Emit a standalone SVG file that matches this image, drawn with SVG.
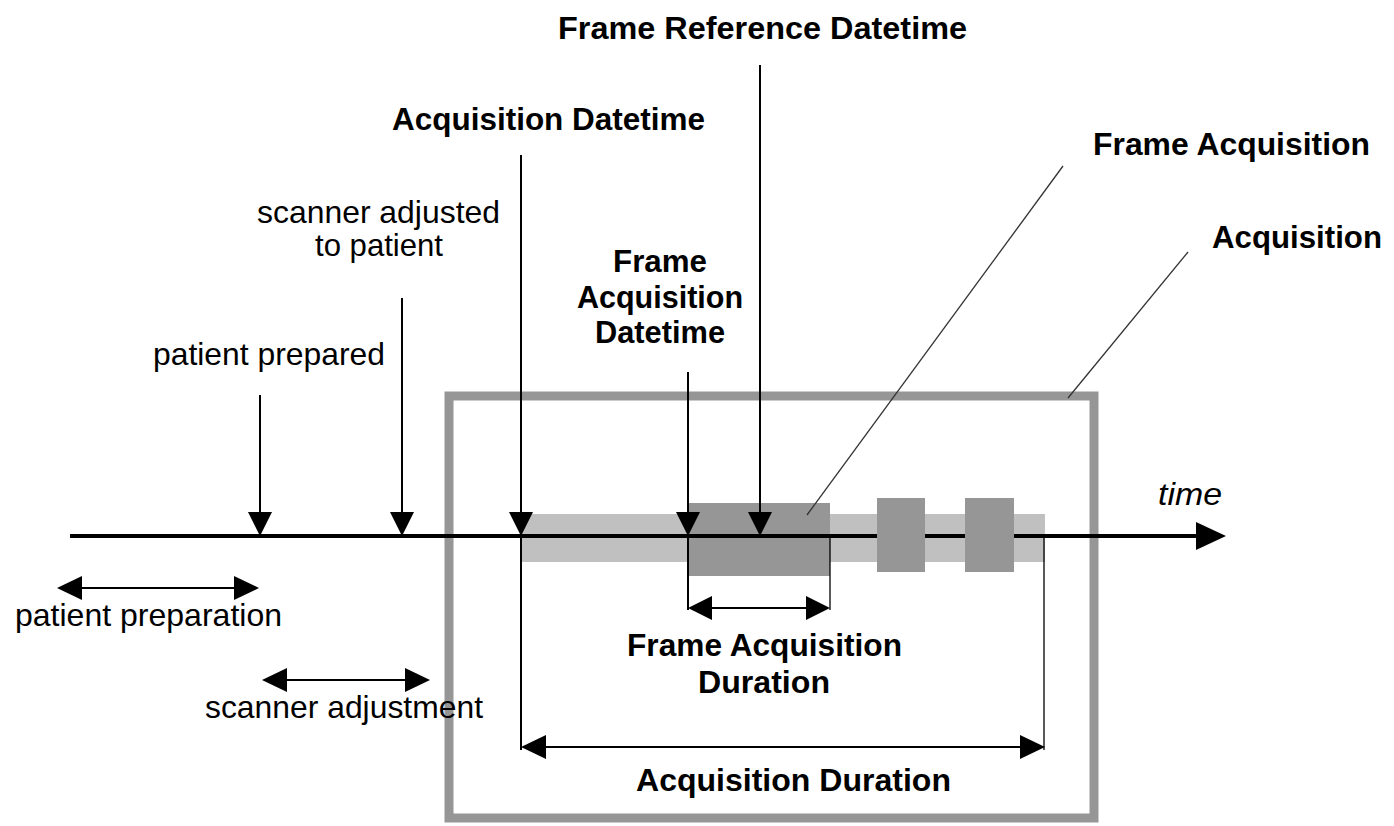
<svg xmlns="http://www.w3.org/2000/svg" width="1394" height="826" viewBox="0 0 1394 826">
<style>
.b{font-family:"Liberation Sans",Arial,sans-serif;font-weight:bold;font-size:32px;fill:#000}
.r{font-family:"Liberation Sans",Arial,sans-serif;font-size:32px;fill:#000}
.ln{stroke:#000;stroke-width:2;fill:none}
.tl{stroke:#000;stroke-width:4;fill:none}
.th{stroke:#000;stroke-width:1.3;fill:none}
.ld{stroke:#333;stroke-width:1.3;fill:none}
.hd{fill:#000}
</style>
<rect width="1394" height="826" fill="#fff"/>
<g id="acquisition-box">
<rect x="449" y="396" width="645" height="422" fill="none" stroke="#969696" stroke-width="9"/>
</g>
<g id="acquisition-band">
<rect x="521" y="514" width="524" height="48" fill="#c0c0c0"/>
</g>
<g id="frame-main">
<rect x="688" y="503" width="142" height="73" fill="#969696"/>
</g>
<g id="connectors">
<line class="tl" x1="70" y1="536" x2="1200" y2="536"/>
<polygon class="hd" points="1196,522 1226,536 1196,550"/>
<line class="ln" x1="260" y1="395" x2="260" y2="520"/>
<polygon class="hd" points="248,512 272,512 260,536"/>
<line class="ln" x1="402" y1="298" x2="402" y2="520"/>
<polygon class="hd" points="390,512 414,512 402,536"/>
<line class="ln" x1="521" y1="155" x2="521" y2="750"/>
<polygon class="hd" points="509,512 533,512 521,536"/>
<line class="ln" x1="688" y1="372" x2="688" y2="610"/>
<polygon class="hd" points="676,512 700,512 688,536"/>
<line class="ln" x1="760" y1="65" x2="760" y2="520"/>
<polygon class="hd" points="748,512 772,512 760,536"/>
<line class="th" x1="830" y1="536" x2="830" y2="610"/>
<line class="th" x1="1044" y1="536" x2="1044" y2="750"/>
<line class="ld" x1="807" y1="515" x2="1063" y2="166"/>
<line class="ld" x1="1068" y1="398" x2="1188" y2="252"/>
<line class="ln" x1="70" y1="588" x2="245" y2="588"/>
<polygon class="hd" points="57,588 82,576 82,600"/>
<polygon class="hd" points="259,588 234,576 234,600"/>
<line class="ln" x1="275" y1="680" x2="418" y2="680"/>
<polygon class="hd" points="262,680 287,668 287,692"/>
<polygon class="hd" points="430,680 405,668 405,692"/>
<line class="ln" x1="700" y1="608" x2="818" y2="608"/>
<polygon class="hd" points="688,608 712,596 712,620"/>
<polygon class="hd" points="830,608 806,596 806,620"/>
<line class="ln" x1="533" y1="747" x2="1033" y2="747"/>
<polygon class="hd" points="521,747 546,735 546,759"/>
<polygon class="hd" points="1045,747 1020,735 1020,759"/>
</g>
<g id="frames">
<rect x="877" y="498" width="48" height="74" fill="#969696"/>
<rect x="965" y="498" width="49" height="74" fill="#969696"/>
</g>
<g id="label-frame-reference-datetime"><text class="b" x="558" y="39" textLength="409" lengthAdjust="spacingAndGlyphs">Frame Reference Datetime</text></g>
<g id="label-acquisition-datetime"><text class="b" x="392" y="130" textLength="313" lengthAdjust="spacingAndGlyphs">Acquisition Datetime</text></g>
<g id="label-frame-acquisition"><text class="b" x="1093" y="155" textLength="277" lengthAdjust="spacingAndGlyphs">Frame Acquisition</text></g>
<g id="label-acquisition"><text class="b" x="1212" y="248" textLength="170" lengthAdjust="spacingAndGlyphs">Acquisition</text></g>
<g id="label-scanner-adjusted"><text class="r" x="257" y="223" textLength="243" lengthAdjust="spacingAndGlyphs">scanner adjusted</text><text class="r" x="315" y="256" textLength="128" lengthAdjust="spacingAndGlyphs">to patient</text></g>
<g id="label-patient-prepared"><text class="r" x="153" y="365" textLength="232" lengthAdjust="spacingAndGlyphs">patient prepared</text></g>
<g id="label-frame-acquisition-datetime"><text class="b" x="613" y="272" textLength="94" lengthAdjust="spacingAndGlyphs">Frame</text><text class="b" x="577" y="308" textLength="166" lengthAdjust="spacingAndGlyphs">Acquisition</text><text class="b" x="595" y="343" textLength="130" lengthAdjust="spacingAndGlyphs">Datetime</text></g>
<g id="label-time"><text class="r" x="1158" y="505" font-style="italic" textLength="64" lengthAdjust="spacingAndGlyphs">time</text></g>
<g id="label-patient-preparation"><text class="r" x="15" y="626" textLength="267" lengthAdjust="spacingAndGlyphs">patient preparation</text></g>
<g id="label-scanner-adjustment"><text class="r" x="205" y="718" textLength="278" lengthAdjust="spacingAndGlyphs">scanner adjustment</text></g>
<g id="label-frame-acquisition-duration"><text class="b" x="627" y="656" textLength="275" lengthAdjust="spacingAndGlyphs">Frame Acquisition</text><text class="b" x="698" y="693" textLength="132" lengthAdjust="spacingAndGlyphs">Duration</text></g>
<g id="label-acquisition-duration"><text class="b" x="636" y="791" textLength="315" lengthAdjust="spacingAndGlyphs">Acquisition Duration</text></g>
</svg>
